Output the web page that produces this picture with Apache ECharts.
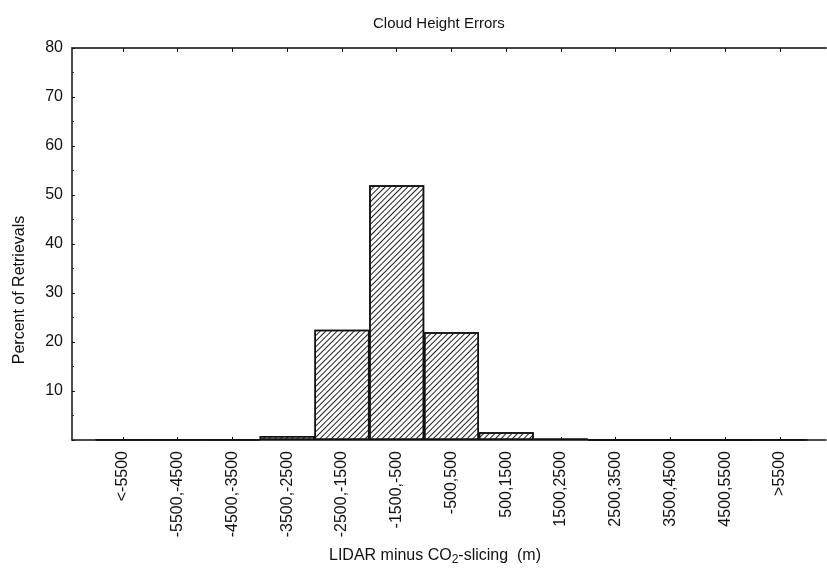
<!DOCTYPE html>
<html>
<head>
<meta charset="utf-8">
<script src="https://cdn.jsdelivr.net/npm/echarts@6/dist/echarts.min.js"></script>
<style>
  html, body { margin: 0; padding: 0; background: #fff; }
  #chart { width: 827px; height: 571px; }
</style>
</head>
<body>
<div id="chart"></div>
<script>
// bin labels of the histogram
var bins = ['<-5500', '-5500,-4500', '-4500,-3500', '-3500,-2500', '-2500,-1500',
    '-1500,-500', '-500,500', '500,1500', '1500,2500', '2500,3500',
    '3500,4500', '4500,5500', '>5500'];
// percent of retrievals per bin
var percents = [0.1, 0.1, 0.1, 0.8, 22.5, 52, 22, 1.6, 0.3, 0, 0, 0, 0.1];
var yTicks = [0, 10, 20, 30, 40, 50, 60, 70, 80];

var binIndex = bins.map(function (b, i) { return i; });
var font = 'Liberation Sans, Arial, sans-serif';

var myChart = echarts.init(document.getElementById('chart'));

var option = {
    backgroundColor: '#fff',
    animation: false,
    title: {
        text: 'Cloud Height Errors',
        left: 368,
        top: 11,
        textStyle: { fontFamily: font, fontSize: 15, fontWeight: 'normal', color: '#111' }
    },
    grid: { left: 72, right: 1, top: 48, bottom: 128 },
    xAxis: [
        {
            type: 'value',
            min: -0.93,
            max: 12.84,
            position: 'bottom',
            splitLine: { show: false },
            axisLine: { onZero: false, lineStyle: { color: '#111', width: 1.5 } },
            axisTick: { inside: true, length: 3, customValues: binIndex, lineStyle: { color: '#111' } },
            axisLabel: {
                customValues: binIndex,
                rotate: 90,
                margin: 11,
                fontFamily: font,
                fontSize: 16,
                color: '#111',
                formatter: function (v) { return bins[Math.round(v)]; }
            },
            name: 'LIDAR minus CO{sub|2}-slicing  (m)',
            nameLocation: 'middle',
            nameGap: 106,
            nameTextStyle: {
                fontFamily: font,
                fontSize: 16,
                color: '#111',
                padding: [0, 28, 0, 0],
                rich: { sub: { fontFamily: font, fontSize: 12, color: '#111', padding: [8, 0, 0, 0] } }
            }
        },
        {
            type: 'value',
            min: -0.93,
            max: 12.84,
            position: 'top',
            splitLine: { show: false },
            axisLine: { onZero: false, lineStyle: { color: '#444', width: 2 } },
            axisTick: { inside: true, length: 4, customValues: binIndex, lineStyle: { color: '#111' } },
            axisLabel: { show: false }
        }
    ],
    yAxis: {
        type: 'value',
        min: 0,
        max: 80,
        interval: 10,
        splitLine: { show: false },
        axisLine: { show: true, onZero: false, lineStyle: { color: '#111', width: 1.5 } },
        axisTick: { show: true, inside: true, length: 3, lineStyle: { color: '#111' } },
        minorTick: { show: true, splitNumber: 2, length: 2, lineStyle: { color: '#333' } },
        axisLabel: {
            showMinLabel: false,
            margin: 9,
            fontFamily: font,
            fontSize: 16,
            color: '#111',
            customValues: yTicks
        },
        name: 'Percent of Retrievals',
        nameLocation: 'middle',
        nameGap: 44,
        nameTextStyle: { fontFamily: font, fontSize: 16, color: '#111', padding: [0, 92, 0, 0] }
    },
    series: [{
        type: 'bar',
        xAxisIndex: 0,
        barWidth: 55,
        data: percents.map(function (p, i) { return [i, p]; }),
        itemStyle: {
            color: '#fff',
            borderColor: '#111',
            borderWidth: 1.5,
            decal: {
                symbol: 'rect',
                symbolSize: 1,
                color: '#222',
                dashArrayX: [1, 0],
                dashArrayY: [1, 2.6],
                rotation: -Math.PI / 4
            }
        }
    }]
};

myChart.setOption(option);
</script>
</body>
</html>
